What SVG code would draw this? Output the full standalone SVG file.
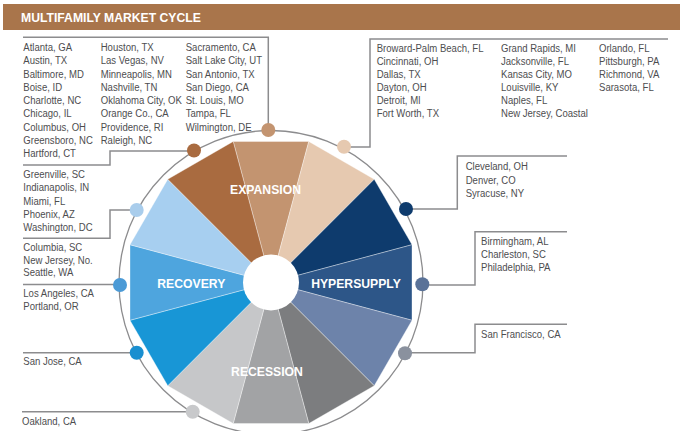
<svg xmlns="http://www.w3.org/2000/svg" width="689" height="431" viewBox="0 0 689 431">
<style>
.t{font-family:"Liberation Sans",Arial,sans-serif;font-size:11px;fill:#4d4d4f}
.lb{font-family:"Liberation Sans",Arial,sans-serif;font-size:12.2px;font-weight:bold;fill:#fff;text-anchor:middle}
.ln{fill:none;stroke:#8c8c8e;stroke-width:1.5}
.w{stroke:#fff;stroke-width:0.6;stroke-opacity:0.6}
</style>
<rect width="689" height="431" fill="#fff"/>
<g id="header">
<rect x="3" y="4" width="677" height="26" fill="#a9754b"/>
<text x="21" y="21.8" style="font-family:'Liberation Sans',Arial,sans-serif;font-size:12.2px;font-weight:bold;fill:#fff">MULTIFAMILY MARKET CYCLE</text>
</g>
<g id="wheel">
<polygon class="w" points="271,282.5 233.21,141.47 308.79,141.47" fill="#c39470"/>
<polygon class="w" points="271,282.5 308.79,141.47 374.24,179.26" fill="#e6c9b0"/>
<polygon class="w" points="271,282.5 374.24,179.26 412.03,244.71" fill="#0e3b6d"/>
<polygon class="w" points="271,282.5 412.03,244.71 412.03,320.29" fill="#2d5688"/>
<polygon class="w" points="271,282.5 412.03,320.29 374.24,385.74" fill="#6d83aa"/>
<polygon class="w" points="271,282.5 374.24,385.74 308.79,423.53" fill="#7c7d7f"/>
<polygon class="w" points="271,282.5 308.79,423.53 233.21,423.53" fill="#a2a3a5"/>
<polygon class="w" points="271,282.5 233.21,423.53 167.76,385.74" fill="#c6c7c9"/>
<polygon class="w" points="271,282.5 167.76,385.74 129.97,320.29" fill="#1896d6"/>
<polygon class="w" points="271,282.5 129.97,320.29 129.97,244.71" fill="#4ea5de"/>
<polygon class="w" points="271,282.5 129.97,244.71 167.76,179.26" fill="#a7cff0"/>
<polygon class="w" points="271,282.5 167.76,179.26 233.21,141.47" fill="#a96b40"/>
<circle cx="271" cy="282.5" r="28" fill="#fff"/>
<circle cx="271" cy="282.5" r="152" fill="none" stroke="#8c8c8e" stroke-width="1.3"/>
<text class="lb" x="265.5" y="194.4">EXPANSION</text>
<text class="lb" x="356" y="288.4">HYPERSUPPLY</text>
<text class="lb" x="191.3" y="288.4">RECOVERY</text>
<text class="lb" x="267" y="376">RECESSION</text>
</g>
<g id="connectors">
<path class="ln" d="M23,37.3 H268.3 V124"/>
<path class="ln" d="M23,165 H110 V151 H188"/>
<path class="ln" d="M23,238.3 H110 V210 H131"/>
<path class="ln" d="M23,284.5 H114"/>
<path class="ln" d="M23,352.7 H131"/>
<path class="ln" d="M22,411.7 H186"/>
<path class="ln" d="M668,39 H370 V147 H350"/>
<path class="ln" d="M567,156 H457.3 V209 H412"/>
<path class="ln" d="M567,231.7 H475 V285 H428"/>
<path class="ln" d="M567,324.3 H475 V352.7 H411"/>
</g>
<g id="dots">
<circle cx="194" cy="150.5" r="7" fill="#a96b40"/>
<circle cx="268.3" cy="130" r="7" fill="#c39470"/>
<circle cx="344" cy="146.7" r="7" fill="#e6c9b0"/>
<circle cx="406" cy="209" r="7" fill="#0e3b6d"/>
<circle cx="422.3" cy="284.3" r="7" fill="#5a7298"/>
<circle cx="405" cy="353.3" r="7" fill="#8a919e"/>
<circle cx="192.7" cy="411.7" r="7" fill="#c8c9cb"/>
<circle cx="136.7" cy="352.7" r="7" fill="#1a8fd0"/>
<circle cx="120" cy="285" r="7" fill="#4b9ad6"/>
<circle cx="136.7" cy="210" r="7" fill="#a9cdec"/>
</g>
<g id="list-expansion-a" transform="translate(23.3,0) scale(0.87,1)">
<text class="t" y="51">Atlanta, GA</text>
<text class="t" y="64.3">Austin, TX</text>
<text class="t" y="77.6">Baltimore, MD</text>
<text class="t" y="90.9">Boise, ID</text>
<text class="t" y="104.2">Charlotte, NC</text>
<text class="t" y="117.5">Chicago, IL</text>
<text class="t" y="130.7">Columbus, OH</text>
<text class="t" y="144">Greensboro, NC</text>
<text class="t" y="157.3">Hartford, CT</text>
</g>
<g id="list-expansion-b" transform="translate(100.7,0) scale(0.87,1)">
<text class="t" y="51">Houston, TX</text>
<text class="t" y="64.3">Las Vegas, NV</text>
<text class="t" y="77.6">Minneapolis, MN</text>
<text class="t" y="90.9">Nashville, TN</text>
<text class="t" y="104.2">Oklahoma City, OK</text>
<text class="t" y="117.5">Orange Co., CA</text>
<text class="t" y="130.7">Providence, RI</text>
<text class="t" y="144">Raleigh, NC</text>
</g>
<g id="list-expansion-c" transform="translate(185.7,0) scale(0.87,1)">
<text class="t" y="51">Sacramento, CA</text>
<text class="t" y="64.3">Salt Lake City, UT</text>
<text class="t" y="77.6">San Antonio, TX</text>
<text class="t" y="90.9">San Diego, CA</text>
<text class="t" y="104.2">St. Louis, MO</text>
<text class="t" y="117.5">Tampa, FL</text>
<text class="t" y="130.7">Wilmington, DE</text>
</g>
<g id="list-peak-a" transform="translate(376.7,0) scale(0.87,1)">
<text class="t" y="52.3">Broward-Palm Beach, FL</text>
<text class="t" y="65.3">Cincinnati, OH</text>
<text class="t" y="78.3">Dallas, TX</text>
<text class="t" y="91.3">Dayton, OH</text>
<text class="t" y="104.3">Detroit, MI</text>
<text class="t" y="117.3">Fort Worth, TX</text>
</g>
<g id="list-peak-b" transform="translate(501,0) scale(0.87,1)">
<text class="t" y="52.3">Grand Rapids, MI</text>
<text class="t" y="65.3">Jacksonville, FL</text>
<text class="t" y="78.3">Kansas City, MO</text>
<text class="t" y="91.3">Louisville, KY</text>
<text class="t" y="104.3">Naples, FL</text>
<text class="t" y="117.3">New Jersey, Coastal</text>
</g>
<g id="list-peak-c" transform="translate(599,0) scale(0.87,1)">
<text class="t" y="52.3">Orlando, FL</text>
<text class="t" y="65.3">Pittsburgh, PA</text>
<text class="t" y="78.3">Richmond, VA</text>
<text class="t" y="91.3">Sarasota, FL</text>
</g>
<g id="list-recovery-late" transform="translate(23.3,0) scale(0.87,1)">
<text class="t" y="178">Greenville, SC</text>
<text class="t" y="191.3">Indianapolis, IN</text>
<text class="t" y="204.6">Miami, FL</text>
<text class="t" y="217.9">Phoenix, AZ</text>
<text class="t" y="231.2">Washington, DC</text>
</g>
<g id="list-recovery-mid" transform="translate(23.3,0) scale(0.87,1)">
<text class="t" y="250.7">Columbia, SC</text>
<text class="t" y="263.6">New Jersey, No.</text>
<text class="t" y="276.5">Seattle, WA</text>
</g>
<g id="list-recovery-early" transform="translate(23.3,0) scale(0.87,1)">
<text class="t" y="296.7">Los Angeles, CA</text>
<text class="t" y="310">Portland, OR</text>
</g>
<g id="list-recession-late" transform="translate(23.3,0) scale(0.87,1)">
<text class="t" y="365">San Jose, CA</text>
</g>
<g id="list-recession" transform="translate(22,0) scale(0.87,1)">
<text class="t" y="425.3">Oakland, CA</text>
</g>
<g id="list-hyper-early" transform="translate(465.7,0) scale(0.87,1)">
<text class="t" y="170">Cleveland, OH</text>
<text class="t" y="183.6">Denver, CO</text>
<text class="t" y="197.2">Syracuse, NY</text>
</g>
<g id="list-hyper" transform="translate(481,0) scale(0.87,1)">
<text class="t" y="244.7">Birmingham, AL</text>
<text class="t" y="258.2">Charleston, SC</text>
<text class="t" y="271.4">Philadelphia, PA</text>
</g>
<g id="list-hyper-late" transform="translate(481,0) scale(0.87,1)">
<text class="t" y="338">San Francisco, CA</text>
</g>
</svg>
